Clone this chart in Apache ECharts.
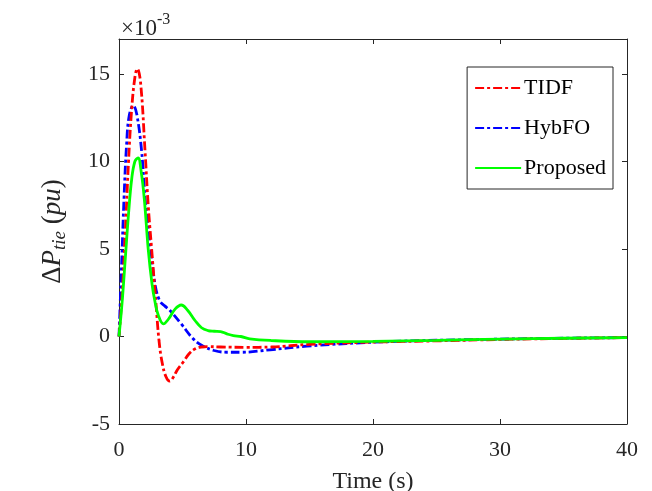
<!DOCTYPE html>
<html><head><meta charset="utf-8">
<script src="https://cdn.jsdelivr.net/npm/echarts@6/dist/echarts.min.js"></script>
<style>html,body{margin:0;padding:0;background:#fff}#c{width:652px;height:491px}</style>
</head><body><div id="c"></div>
<script>
// Values are in units of 1e-3 pu
var seriesNames = ['TIDF', 'HybFO', 'Proposed'];
var tTIDF = [0, 0.25, 0.5, 0.75, 1.0, 1.25, 1.44, 1.7, 2.05, 2.3, 2.57, 2.9, 3.15, 3.4, 3.7, 4.0, 4.3, 4.6, 5.06, 5.5, 6.0, 6.5, 7, 8, 10, 12, 15, 20, 25, 30, 35, 40];
var vTIDF = [0, 2.5, 6, 10, 13, 14.8, 15.3, 14.5, 10.6, 7.5, 5, 2, -0.23, -1.5, -2.3, -2.55, -2.3, -1.9, -1.46, -1.0, -0.7, -0.6, -0.58, -0.6, -0.62, -0.6, -0.45, -0.32, -0.25, -0.17, -0.11, -0.06];
var tHybFO = [0, 0.2, 0.4, 0.6, 0.8, 1.13, 1.4, 1.78, 2.1, 2.5, 2.83, 3.2, 3.6, 4.0, 4.9, 5.8, 6.5, 7.5, 8.5, 9.6, 11.9, 14.8, 21, 30, 40];
var vHybFO = [0, 4, 8, 11, 12.6, 13.2, 12.7, 10.6, 7.5, 5, 3.0, 2.05, 1.75, 1.5, 0.72, -0.1, -0.5, -0.8, -0.9, -0.9, -0.76, -0.55, -0.3, -0.15, -0.06];
var tProposed = [0, 0.25, 0.5, 0.75, 1.0, 1.25, 1.5, 1.75, 2.0, 2.3, 2.6, 2.83, 3.1, 3.5, 3.9, 4.4, 4.9, 5.4, 6.0, 6.5, 7.0, 7.5, 8.0, 8.5, 9.0, 9.6, 10.3, 12, 15, 20, 25, 30, 35, 40];
var vProposed = [0, 2, 4.5, 7, 9, 10, 10.2, 9.4, 7.8, 5, 3, 2.0, 1.2, 0.72, 1.0, 1.55, 1.8, 1.5, 0.9, 0.5, 0.34, 0.3, 0.28, 0.15, 0.05, 0.0, -0.13, -0.23, -0.3, -0.28, -0.22, -0.15, -0.1, -0.06];
var xTicks = [0, 10, 20, 30, 40];
var yTicks = [-5, 0, 5, 10, 15];

function pairs(t, v) { return t.map(function (x, i) { return [x, v[i]]; }); }

var FONT = '"Liberation Serif", "DejaVu Serif", serif';
var AX = '#262626';
var chart = echarts.init(document.getElementById('c'), null, { renderer: 'canvas' });

function baseAxis(extra) {
  return Object.assign({
    axisLine: { show: true, onZero: false, lineStyle: { color: AX, width: 1 } },
    axisTick: { show: true, inside: true, length: 5, lineStyle: { color: AX, width: 1 } },
    splitLine: { show: false }
  }, extra);
}

var option = {
  animation: false,
  backgroundColor: '#fff',
  grid: { left: 119, right: 25, top: 39, bottom: 67, containLabel: false, outerBoundsMode: 'none' },
  xAxis: [
    baseAxis({
      type: 'value', min: 0, max: 40, interval: 10, position: 'bottom',
      name: 'Time (s)', nameLocation: 'middle', nameGap: 46,
      nameTextStyle: { fontFamily: FONT, fontSize: 24, color: '#262626' },
      axisLabel: { fontFamily: FONT, fontSize: 22, color: '#262626', margin: 15, customValues: xTicks },
      axisTick: { show: true, inside: true, length: 5, customValues: xTicks, lineStyle: { color: AX, width: 1 } }
    }),
    baseAxis({
      type: 'value', min: 0, max: 40, interval: 10, position: 'top',
      axisLabel: { show: false },
      axisTick: { show: true, inside: true, length: 5, customValues: xTicks, lineStyle: { color: AX, width: 1 } }
    })
  ],
  yAxis: [
    baseAxis({
      type: 'value', min: -5, max: 17, interval: 5, position: 'left',
      name: '{d|Δ}{p|P}{s|tie}{n| (}{p|pu}{n|)}', nameLocation: 'middle', nameGap: 50, nameRotate: 90,
      nameTextStyle: {
        fontFamily: FONT, fontSize: 26, color: '#262626',
        rich: {
          d: { fontFamily: FONT, fontSize: 27, color: '#262626' },
          p: { fontFamily: FONT, fontSize: 27, fontStyle: 'italic', color: '#262626' },
          n: { fontFamily: FONT, fontSize: 27, color: '#262626' },
          s: { fontFamily: FONT, fontSize: 19, fontStyle: 'italic', color: '#262626', verticalAlign: 'bottom', padding: [14, 0, 0, 0] }
        }
      },
      axisLabel: { fontFamily: FONT, fontSize: 22, color: '#262626', margin: 9, customValues: yTicks },
      axisTick: { show: true, inside: true, length: 5, customValues: yTicks, lineStyle: { color: AX, width: 1 } }
    }),
    baseAxis({
      type: 'value', min: -5, max: 17, interval: 5, position: 'right',
      axisLabel: { show: false },
      axisTick: { show: true, inside: true, length: 5, customValues: yTicks, lineStyle: { color: AX, width: 1 } }
    })
  ],
  legend: {
    orient: 'vertical', right: 39, top: 67,
    backgroundColor: '#fff', borderColor: AX, borderWidth: 1, borderRadius: 0,
    padding: [10, 7, 10, 7],
    itemWidth: 46, itemHeight: 14, itemGap: 18,
    itemStyle: { opacity: 0 },
    textStyle: { fontFamily: FONT, fontSize: 22, color: '#000', padding: [0, 0, 0, -2] },
    data: seriesNames
  },
  graphic: [{
    type: 'text', left: 121, top: 12, silent: true,
    style: {
      text: '{a|×10}{b|-3}',
      rich: {
        a: { fontFamily: FONT, fontSize: 23, fill: '#262626', verticalAlign: 'bottom' },
        b: { fontFamily: FONT, fontSize: 16, fill: '#262626', verticalAlign: 'top', padding: [0, 0, 12, 0] }
      }
    }
  }],
  series: [
    {
      name: seriesNames[0], type: 'line', data: pairs(tTIDF, vTIDF), showSymbol: false, symbol: 'none',
      smooth: 0.4, z: 3,
      itemStyle: { color: '#ff0000' },
      lineStyle: { color: '#ff0000', width: 2.8, type: [9, 3, 3, 3] }
    },
    {
      name: seriesNames[1], type: 'line', data: pairs(tHybFO, vHybFO), showSymbol: false, symbol: 'none',
      smooth: 0.4, z: 2,
      itemStyle: { color: '#0000ff' },
      lineStyle: { color: '#0000ff', width: 2.8, type: [9, 3, 3, 3] }
    },
    {
      name: seriesNames[2], type: 'line', data: pairs(tProposed, vProposed), showSymbol: false, symbol: 'none',
      smooth: 0.4, z: 4,
      itemStyle: { color: '#00ff00' },
      lineStyle: { color: '#00ff00', width: 2.8 }
    }
  ]
};
chart.setOption(option);
</script></body></html>
